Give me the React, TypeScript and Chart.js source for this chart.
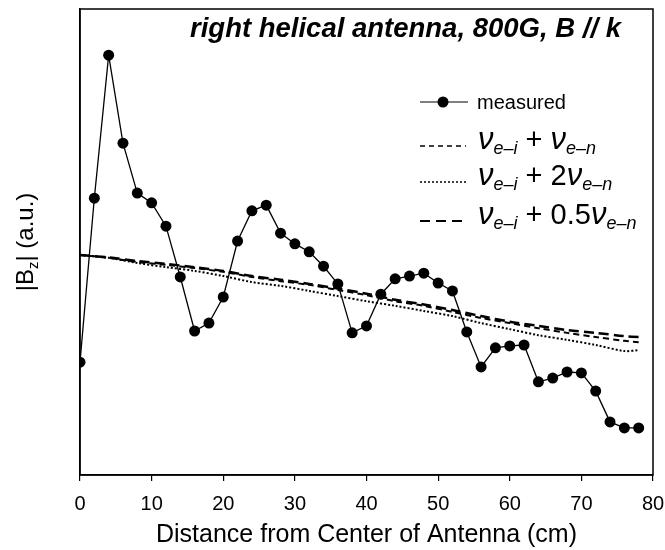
import React, { useEffect, useRef } from 'react';
import { Chart, registerables } from 'chart.js';

Chart.register(...registerables);

// ---- data ----
const distances = [0, 2, 4, 6, 8, 10, 12, 14, 16, 18, 20, 22, 24, 26, 28, 30, 32, 34, 36, 38, 40, 42, 44, 46, 48, 50, 52, 54, 56, 58, 60, 62, 64, 66, 68, 70, 72, 74, 76, 78];
const measured = [24.2, 59.4, 90.1, 71.2, 60.5, 58.4, 53.4, 42.5, 30.9, 32.6, 38.2, 50.2, 56.7, 57.9, 51.9, 49.6, 47.9, 44.8, 41.0, 30.5, 32.0, 38.8, 42.1, 42.7, 43.3, 41.2, 39.5, 30.7, 23.2, 27.3, 27.7, 27.9, 20.0, 20.8, 22.1, 21.9, 18.0, 11.4, 10.1, 10.1];

const theoryX = [0, 4, 8, 12, 16, 20, 24, 28, 32, 36, 40, 44, 48, 52, 56, 60, 64, 68, 72, 76, 78];
const nuSum = [47.2, 46.6, 45.7, 45.1, 44.4, 43.6, 42.5, 41.6, 40.8, 39.7, 38.6, 37.3, 36.3, 35.0, 33.7, 32.6, 31.5, 30.5, 29.6, 28.8, 28.5];
const nuTwice = [47.2, 46.6, 45.5, 44.6, 43.8, 42.7, 41.4, 40.6, 39.5, 38.4, 37.3, 36.3, 35.2, 34.1, 32.6, 31.3, 30.0, 29.0, 27.9, 26.6, 26.8];
const nuHalf = [47.2, 46.7, 45.9, 45.3, 44.6, 43.8, 42.7, 41.9, 41.0, 40.0, 38.9, 37.6, 36.6, 35.4, 34.1, 32.9, 32.0, 31.1, 30.5, 29.8, 29.6];

const xTicks = [0, 10, 20, 30, 40, 50, 60, 70, 80];

const TITLE = 'right helical antenna, 800G, B // k';
const X_TITLE = 'Distance from Center of Antenna (cm)';

const SANS = '"Liberation Sans", Arial, sans-serif';

type Part = { t: string; font: string; dy: number };

function drawParts(ctx: CanvasRenderingContext2D, x: number, y: number, parts: Part[]) {
  let cx = x;
  for (const p of parts) {
    ctx.font = p.font;
    ctx.fillText(p.t, cx, y + p.dy);
    cx += ctx.measureText(p.t).width;
  }
  return cx;
}

const NU = `italic 31px ${SANS}`;
const SUB = `italic 18px ${SANS}`;
const REG = `29px ${SANS}`;

function nuParts(coef: string): Part[] {
  const parts: Part[] = [
    { t: '\u03bd', font: NU, dy: 0 },
    { t: 'e\u2013i', font: SUB, dy: 5 },
    { t: ' + ', font: REG, dy: 0 },
  ];
  if (coef) parts.push({ t: coef, font: REG, dy: 0 });
  parts.push({ t: '\u03bd', font: NU, dy: 0 });
  parts.push({ t: 'e\u2013n', font: SUB, dy: 5 });
  return parts;
}

const overlay = {
  id: 'overlay',
  afterDraw(chart: any) {
    const ctx: CanvasRenderingContext2D = chart.ctx;
    const a = chart.chartArea;
    ctx.save();
    ctx.strokeStyle = '#000';
    ctx.lineWidth = 1.5;
    ctx.setLineDash([]);
    ctx.strokeRect(a.left, a.top, a.right - a.left, a.bottom - a.top);

    ctx.fillStyle = '#000';
    ctx.textBaseline = 'alphabetic';

    // title
    ctx.font = `italic bold 27.5px ${SANS}`;
    ctx.textAlign = 'left';
    ctx.fillText(TITLE, 190, 37);

    // legend
    const lx0 = 420, lx1 = 468;
    let y = 102;
    ctx.lineWidth = 1;
    ctx.beginPath(); ctx.moveTo(lx0, y); ctx.lineTo(lx1, y); ctx.stroke();
    ctx.beginPath(); ctx.arc(443, y, 5.5, 0, Math.PI * 2); ctx.fill();
    ctx.font = `20px ${SANS}`;
    ctx.fillText('measured', 477, y + 7);

    const rows: { y: number; dash: number[]; w: number; coef: string }[] = [
      { y: 146, dash: [5, 4], w: 1.5, coef: '' },
      { y: 182, dash: [2, 2], w: 1.5, coef: '2' },
      { y: 221, dash: [10, 6], w: 2, coef: '0.5' },
    ];
    for (const r of rows) {
      ctx.lineWidth = r.w;
      ctx.setLineDash(r.dash);
      ctx.beginPath(); ctx.moveTo(lx0, r.y); ctx.lineTo(lx1 - 2, r.y); ctx.stroke();
      ctx.setLineDash([]);
      drawParts(ctx, 478, r.y + 3, nuParts(r.coef));
    }

    // x axis title
    ctx.font = `25px ${SANS}`;
    ctx.textAlign = 'center';
    ctx.fillText(X_TITLE, (a.left + a.right) / 2, 542);

    // y axis title (rotated)
    ctx.translate(33, 242);
    ctx.rotate(-Math.PI / 2);
    const yParts: Part[] = [
      { t: '|B', font: `24px ${SANS}`, dy: 0 },
      { t: 'z', font: `15px ${SANS}`, dy: 5 },
      { t: '| (a.u.)', font: `24px ${SANS}`, dy: 0 },
    ];
    ctx.textAlign = 'left';
    let total = 0;
    for (const p of yParts) { ctx.font = p.font; total += ctx.measureText(p.t).width; }
    drawParts(ctx, -total / 2, 0, yParts);
    ctx.restore();
  },
};

export default function App() {
  const ref = useRef<HTMLCanvasElement>(null);
  useEffect(() => {
    const canvas = ref.current;
    if (!canvas) return;
    const chart = new Chart(canvas, {
      type: 'scatter',
      data: {
        datasets: [
          {
            label: 'measured',
            data: distances.map((x, i) => ({ x, y: measured[i] })),
            showLine: true,
            borderColor: '#000',
            backgroundColor: '#000',
            borderWidth: 1.3,
            pointRadius: 5.5,
            pointBorderWidth: 0,
            pointBackgroundColor: '#000',
            tension: 0,
          },
          {
            label: 'nu_ei + nu_en',
            data: theoryX.map((x, i) => ({ x, y: nuSum[i] })),
            showLine: true,
            borderColor: '#000',
            borderWidth: 2,
            borderDash: [6, 4],
            pointRadius: 0,
            tension: 0.3,
          },
          {
            label: 'nu_ei + 2 nu_en',
            data: theoryX.map((x, i) => ({ x, y: nuTwice[i] })),
            showLine: true,
            borderColor: '#000',
            borderWidth: 2,
            borderDash: [2, 2],
            pointRadius: 0,
            tension: 0.3,
          },
          {
            label: 'nu_ei + 0.5 nu_en',
            data: theoryX.map((x, i) => ({ x, y: nuHalf[i] })),
            showLine: true,
            borderColor: '#000',
            borderWidth: 2.5,
            borderDash: [10, 5],
            pointRadius: 0,
            tension: 0.3,
          },
        ],
      },
      options: {
        responsive: false,
        animation: false,
        devicePixelRatio: 1,
        layout: { padding: { top: 9, right: 12, left: 0, bottom: 0 } },
        plugins: { legend: { display: false }, tooltip: { enabled: false }, title: { display: false } },
        scales: {
          x: {
            type: 'linear',
            min: 0,
            max: 80,
            afterBuildTicks: (s: any) => { s.ticks = xTicks.map((v) => ({ value: v })); },
            afterFit: (s: any) => { s.height = 75; s.paddingLeft = 0; s.paddingRight = 0; },
            ticks: { color: '#000', font: { family: SANS, size: 20 }, padding: 11, maxRotation: 0 },
            grid: { display: true, drawOnChartArea: false, drawTicks: true, tickLength: 6, color: '#000', lineWidth: 1.2 },
            border: { display: true, color: '#000', width: 1.5 },
          },
          y: {
            type: 'linear',
            min: 0,
            max: 100,
            afterFit: (s: any) => { s.width = 80; s.paddingTop = 0; s.paddingBottom = 0; },
            ticks: { display: false },
            grid: { display: false },
            border: { display: true, color: '#000', width: 1.5 },
          },
        },
      },
      plugins: [overlay],
    });
    return () => chart.destroy();
  }, []);
  return (
    <div style={{ position: 'fixed', left: 0, top: 0, width: 665, height: 550, background: '#fff' }}>
      <canvas ref={ref} width={665} height={550} style={{ width: 665, height: 550, display: 'block' }} />
    </div>
  );
}
